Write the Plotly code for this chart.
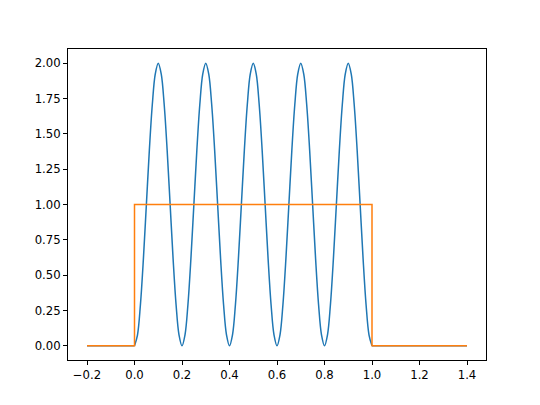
import plotly.graph_objects as go

# Blue curve: oscillation values read at x steps of 0.0125 across [0, 1]
blue_x = [round(i * 0.0125, 4) for i in range(81)]
blue_period = [0.0, 0.076, 0.293, 0.617, 1.0, 1.383, 1.707, 1.924,
               2.0, 1.924, 1.707, 1.383, 1.0, 0.617, 0.293, 0.076]
blue_y = blue_period * 5 + [0.0]
# Blue flat parts outside [0, 1]
blue_left_x = [-0.2, 0.0]
blue_left_y = [0.0, 0.0]
blue_right_x = [1.0, 1.4]
blue_right_y = [0.0, 0.0]

# Orange rectangle pulse
orange_x = [-0.2, 0.0, 0.0, 1.0, 1.0, 1.4]
orange_y = [0.0, 0.0, 1.0, 1.0, 0.0, 0.0]

x_ticks = [-0.2, 0.0, 0.2, 0.4, 0.6, 0.8, 1.0, 1.2, 1.4]
x_labels = ["\u22120.2", "0.0", "0.2", "0.4", "0.6", "0.8", "1.0", "1.2", "1.4"]
y_ticks = [0.0, 0.25, 0.5, 0.75, 1.0, 1.25, 1.5, 1.75, 2.0]
y_labels = ["0.00", "0.25", "0.50", "0.75", "1.00", "1.25", "1.50", "1.75", "2.00"]

blue = "#1f77b4"
fig = go.Figure()
fig.add_trace(go.Scatter(x=blue_left_x, y=blue_left_y, mode="lines",
                         line=dict(color=blue, width=1.5)))
fig.add_trace(go.Scatter(x=blue_x, y=blue_y, mode="lines",
                         line=dict(color=blue, width=1.5, shape="spline", smoothing=1.0)))
fig.add_trace(go.Scatter(x=blue_right_x, y=blue_right_y, mode="lines",
                         line=dict(color=blue, width=1.5)))
fig.add_trace(go.Scatter(x=orange_x, y=orange_y, mode="lines",
                         line=dict(color="#ff7f0e", width=1.5)))

axis_common = dict(showgrid=False, zeroline=False, showline=True, linecolor="black",
                   linewidth=1, mirror=True, ticks="outside", ticklen=4, tickwidth=1,
                   tickcolor="black", tickfont=dict(family="DejaVu Sans", size=11.7, color="black"))
fig.update_xaxes(range=[-0.28, 1.48], tickvals=x_ticks, ticktext=x_labels, **axis_common)
fig.update_yaxes(range=[-0.1, 2.1], tickvals=y_ticks, ticktext=y_labels, **axis_common)
# page body has an 8px margin; size and margins compensate so the axes land where the reference has them
fig.update_layout(width=532, height=397, showlegend=False,
                  margin=dict(l=60, r=54, t=41, b=45),
                  paper_bgcolor="white", plot_bgcolor="white")
fig.write_html("out.html")
